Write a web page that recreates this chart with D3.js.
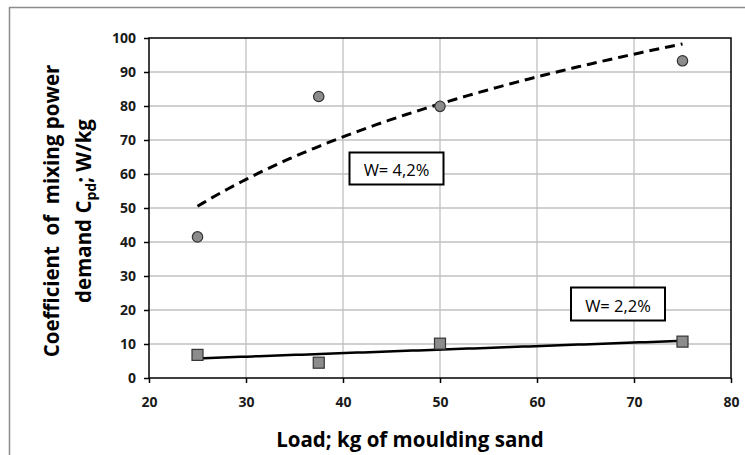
<!DOCTYPE html>
<html>
<head>
<meta charset="utf-8">
<script src="https://cdn.jsdelivr.net/npm/d3@7"></script>
<style>
  body { margin: 0; background: #fff; }
  svg { display: block; font-family: "Open Sans", "Liberation Sans", sans-serif; }
</style>
</head>
<body>
<script>
const width = 745;
const height = 455;

const loads = [25, 37.5, 50, 75];
const cpdW42 = [41.5, 82.8, 79.9, 93.3];
const cpdW22 = [6.8, 4.5, 10.1, 10.7];
const xTicks = [20, 30, 40, 50, 60, 70, 80];
const yTicks = [0, 10, 20, 30, 40, 50, 60, 70, 80, 90, 100];
const labelW42 = 'W= 4,2%';
const labelW22 = 'W= 2,2%';

const margin = { left: 149, top: 38, right: 14, bottom: 77 };

const x = d3.scaleLinear().domain([20, 80]).range([margin.left, width - margin.right]);
const y = d3.scaleLinear().domain([0, 100]).range([height - margin.bottom, margin.top]);

const svg = d3.select('body').append('svg')
  .attr('width', width)
  .attr('height', height);

// outer frame
svg.append('rect')
  .attr('x', 9.5).attr('y', 7.5)
  .attr('width', width + 10).attr('height', height + 10)
  .attr('fill', 'none')
  .attr('stroke', '#8c8c8c')
  .attr('stroke-width', 1.5);

// grid
svg.append('g')
  .selectAll('line.v')
  .data(xTicks.slice(1, -1))
  .enter().append('line')
  .attr('x1', d => x(d)).attr('x2', d => x(d))
  .attr('y1', y(0)).attr('y2', y(100))
  .attr('stroke', '#c0c0c0').attr('stroke-width', 1.3);
svg.append('g')
  .selectAll('line.h')
  .data(yTicks.slice(1, -1))
  .enter().append('line')
  .attr('x1', x(20)).attr('x2', x(80))
  .attr('y1', d => y(d)).attr('y2', d => y(d))
  .attr('stroke', '#c0c0c0').attr('stroke-width', 1.3);

// axes
const xAxis = svg.append('g')
  .attr('transform', `translate(0,${y(0)})`)
  .call(d3.axisBottom(x).tickValues(xTicks).tickSize(5).tickPadding(14));
const yAxis = svg.append('g')
  .attr('transform', `translate(${x(20)},0)`)
  .call(d3.axisLeft(y).tickValues(yTicks).tickSize(5).tickPadding(8));
[xAxis, yAxis].forEach(g => {
  g.select('.domain').remove();
  g.attr('font-family', null).attr('font-size', null);
  g.selectAll('.tick line').attr('stroke', '#000').attr('stroke-width', 1.5);
  g.selectAll('.tick text')
    .attr('font-size', 14)
    .attr('font-weight', 'bold')
    .attr('fill', '#1a1a1a');
});

svg.append('rect')
  .attr('x', x(20)).attr('y', y(100))
  .attr('width', x(80) - x(20)).attr('height', y(0) - y(100))
  .attr('fill', 'none')
  .attr('stroke', '#000')
  .attr('stroke-width', 1.5);

// trend lines (fitted from data)
function logFit(xs, ys) {
  const lx = xs.map(Math.log);
  const mx = d3.mean(lx), my = d3.mean(ys);
  const a = d3.sum(lx, (v, i) => (v - mx) * (ys[i] - my)) / d3.sum(lx, v => (v - mx) ** 2);
  const b = my - a * mx;
  return v => a * Math.log(v) + b;
}
function linFit(xs, ys) {
  const mx = d3.mean(xs), my = d3.mean(ys);
  const a = d3.sum(xs, (v, i) => (v - mx) * (ys[i] - my)) / d3.sum(xs, v => (v - mx) ** 2);
  const b = my - a * mx;
  return v => a * v + b;
}
const f42 = logFit(loads, cpdW42);
const f22 = linFit(loads, cpdW22);
const xs = d3.range(80).map(i => 25 + i * 50 / 79);

const line = d3.line().x(d => x(d[0])).y(d => y(d[1]));

svg.append('path')
  .datum(xs.map(v => [v, f42(v)]))
  .attr('d', line)
  .attr('fill', 'none')
  .attr('stroke', '#000')
  .attr('stroke-width', 3)
  .attr('stroke-dasharray', '10,6');

svg.append('path')
  .datum(xs.map(v => [v, f22(v)]))
  .attr('d', line)
  .attr('fill', 'none')
  .attr('stroke', '#000')
  .attr('stroke-width', 2.5);

// markers
svg.append('g')
  .selectAll('circle')
  .data(loads)
  .enter().append('circle')
  .attr('cx', d => x(d))
  .attr('cy', (d, i) => y(cpdW42[i]))
  .attr('r', 5.2)
  .attr('fill', '#8c8c8c')
  .attr('stroke', '#333')
  .attr('stroke-width', 1.2);

svg.append('g')
  .selectAll('rect')
  .data(loads)
  .enter().append('rect')
  .attr('x', d => x(d) - 5.5)
  .attr('y', (d, i) => y(cpdW22[i]) - 5.5)
  .attr('width', 11).attr('height', 11)
  .attr('fill', '#8c8c8c')
  .attr('stroke', '#333')
  .attr('stroke-width', 1.2);

// labels in boxes
function boxLabel(cx, cy, w, h, text) {
  svg.append('rect')
    .attr('x', cx - w / 2).attr('y', cy - h / 2)
    .attr('width', w).attr('height', h)
    .attr('fill', '#fff')
    .attr('stroke', '#000')
    .attr('stroke-width', 2);
  svg.append('text')
    .attr('x', cx).attr('y', cy + 1)
    .attr('text-anchor', 'middle')
    .attr('dominant-baseline', 'central')
    .attr('font-size', 16.5)
    .text(text);
}
boxLabel(396.5, 168.5, 94, 32, labelW42);
boxLabel(618, 304, 94, 33, labelW22);

// axis titles
svg.append('text')
  .attr('x', 410)
  .attr('y', 447)
  .attr('text-anchor', 'middle')
  .attr('font-weight', 'bold')
  .attr('font-size', 20.5)
  .text('Load; kg of moulding sand');

const yTitle = svg.append('text')
  .attr('transform', 'translate(0,211) rotate(-90)')
  .attr('text-anchor', 'middle')
  .attr('font-weight', 'bold')
  .attr('font-size', 20.5);
yTitle.append('tspan')
  .attr('x', 0).attr('y', 59)
  .attr('xml:space', 'preserve')
  .text('Coefficient  of  mixing power');
const l2 = yTitle.append('tspan')
  .attr('x', 0).attr('y', 91)
  .text('demand  C');
l2.append('tspan').attr('font-size', 14).attr('dy', 5).text('pd');
l2.append('tspan').attr('dy', -5).text('; W/kg');
</script>
</body>
</html>
